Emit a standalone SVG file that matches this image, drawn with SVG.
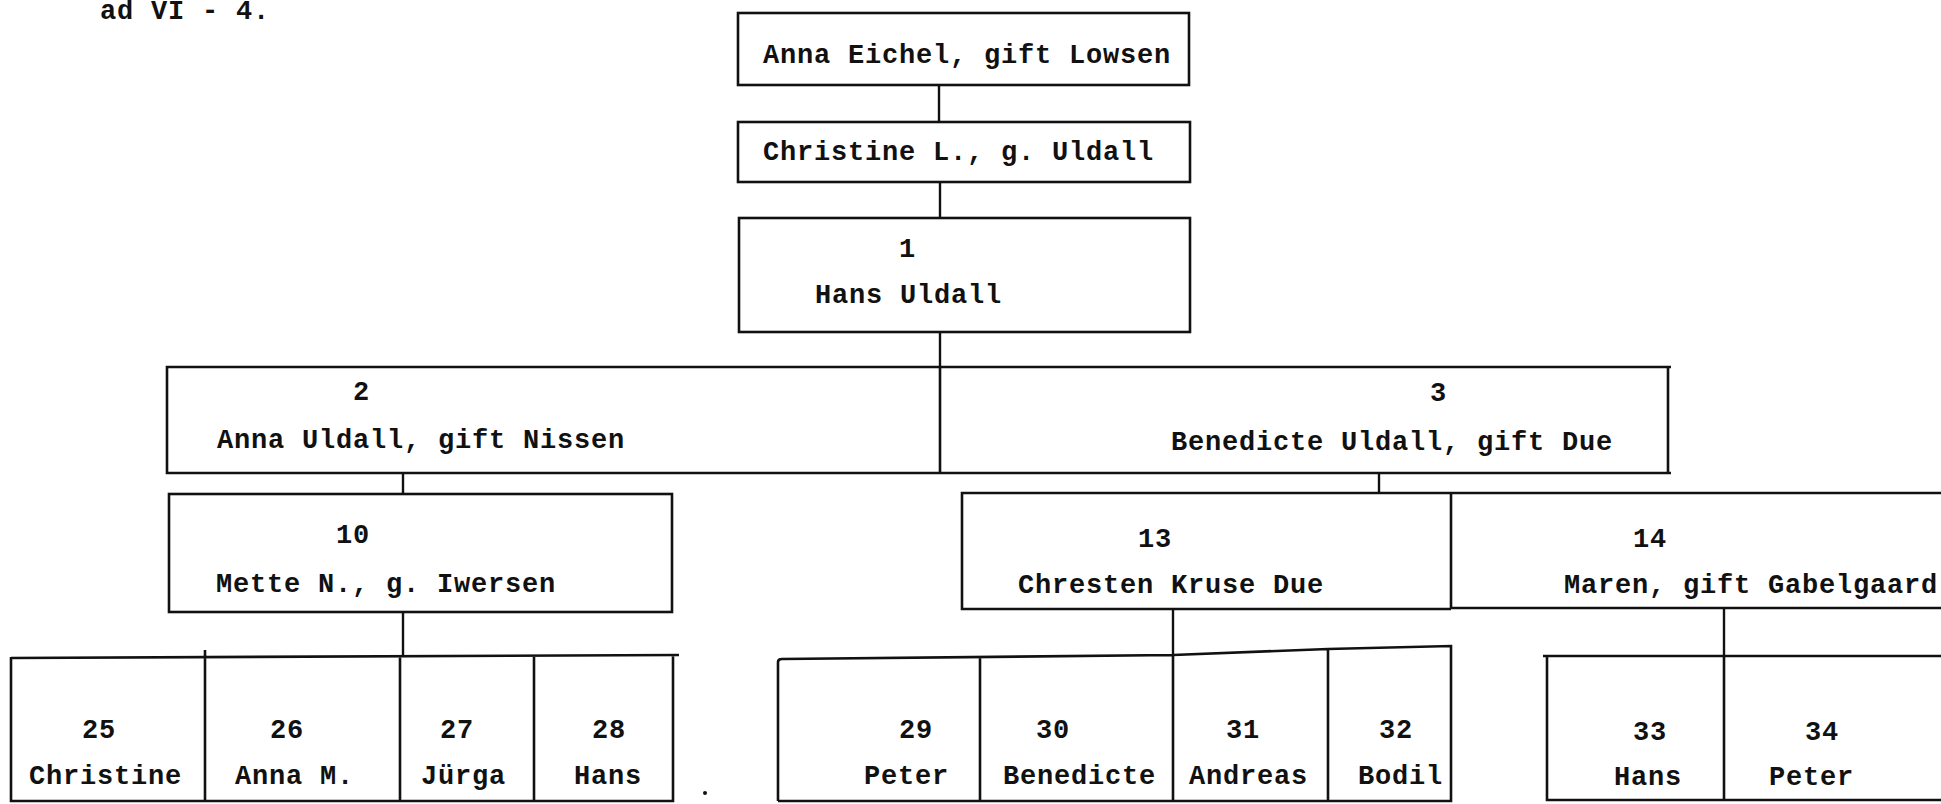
<svg xmlns="http://www.w3.org/2000/svg" width="1941" height="804" viewBox="0 0 1941 804">
<style>
  .bx { fill: none; stroke: #111; stroke-width: 2.6; stroke-linejoin: miter; }
  .ln { fill: none; stroke: #111; stroke-width: 2.4; }
  text { font-family: "Liberation Mono", "DejaVu Sans Mono", monospace; font-weight: bold; font-size: 27px; letter-spacing: 0.8px; fill: #111; }
</style>
<rect x="0" y="0" width="1941" height="804" fill="#ffffff"/>

<g id="heading">
  <text x="100" y="19">ad VI - 4.</text>
</g>

<g id="connectors">
  <path class="ln" d="M939 85 V122"/>
  <path class="ln" d="M940 182 V218"/>
  <path class="ln" d="M940 332 V367"/>
  <path class="ln" d="M403 473 V494"/>
  <path class="ln" d="M403 612 V656"/>
  <path class="ln" d="M1379 473 V493"/>
  <path class="ln" d="M1173 609 V655"/>
  <path class="ln" d="M1724 607 V655"/>
</g>

<g id="node-anna-eichel">
  <rect class="bx" x="738" y="13" width="451" height="72"/>
  <text x="763" y="63">Anna Eichel, gift Lowsen</text>
</g>

<g id="node-christine-l">
  <rect class="bx" x="738" y="122" width="452" height="60"/>
  <text x="763" y="160">Christine L., g. Uldall</text>
</g>

<g id="node-1">
  <rect class="bx" x="739" y="218" width="451" height="114"/>
  <text x="899" y="257">1</text>
  <text x="815" y="303">Hans Uldall</text>
</g>

<g id="node-2">
  <path class="bx" d="M940 367 H167 V473 H940"/>
  <text x="353" y="400">2</text>
  <text x="217" y="448">Anna Uldall, gift Nissen</text>
</g>

<g id="node-3">
  <path class="bx" d="M940 367 H1671 M1668 367 V473 M940 473 H1671 M940 367 V473"/>
  <text x="1430" y="401">3</text>
  <text x="1171" y="450">Benedicte Uldall, gift Due</text>
</g>

<g id="node-10">
  <rect class="bx" x="169" y="494" width="503" height="118"/>
  <text x="336" y="543">10</text>
  <text x="216" y="592">Mette N., g. Iwersen</text>
</g>

<g id="node-13">
  <path class="bx" d="M1451 493 H962 V609 H1451 M1451 493 V609"/>
  <text x="1138" y="547">13</text>
  <text x="1018" y="593">Chresten Kruse Due</text>
</g>

<g id="node-14">
  <path class="bx" d="M1451 493 H1941 M1451 608 H1941"/>
  <text x="1633" y="547">14</text>
  <text x="1564" y="593">Maren, gift Gabelgaard</text>
</g>

<g id="row-25-28">
  <path class="bx" d="M11 658 L679 655 M11 657 V801 H673 V656 M205 650 V801 M400 656 V801 M534 656 V801"/>
</g>
<g id="node-25">
  <text x="82" y="738">25</text>
  <text x="29" y="784">Christine</text>
</g>
<g id="node-26">
  <text x="270" y="738">26</text>
  <text x="235" y="784">Anna M.</text>
</g>
<g id="node-27">
  <text x="440" y="738">27</text>
  <text x="421" y="784">Jürga</text>
</g>
<g id="node-28">
  <text x="592" y="738">28</text>
  <text x="574" y="784">Hans</text>
</g>

<g id="row-29-32">
  <path class="bx" d="M778 801 V662 Q778 659 782 659 L1173 655 L1328 649 L1451 646 V801 H778 M980 657 V801 M1173 655 V801 M1328 649 V801"/>
</g>
<g id="node-29">
  <text x="899" y="738">29</text>
  <text x="864" y="784">Peter</text>
</g>
<g id="node-30">
  <text x="1036" y="738">30</text>
  <text x="1003" y="784">Benedicte</text>
</g>
<g id="node-31">
  <text x="1226" y="738">31</text>
  <text x="1189" y="784">Andreas</text>
</g>
<g id="node-32">
  <text x="1379" y="738">32</text>
  <text x="1358" y="784">Bodil</text>
</g>

<g id="row-33-34">
  <path class="bx" d="M1543 656 H1941 M1547 656 V800 H1941 M1724 655 V800"/>
</g>
<g id="node-33">
  <text x="1633" y="740">33</text>
  <text x="1614" y="785">Hans</text>
</g>
<g id="node-34">
  <text x="1805" y="740">34</text>
  <text x="1769" y="785">Peter</text>
</g>

<circle cx="705" cy="793" r="2" fill="#111"/>
</svg>
